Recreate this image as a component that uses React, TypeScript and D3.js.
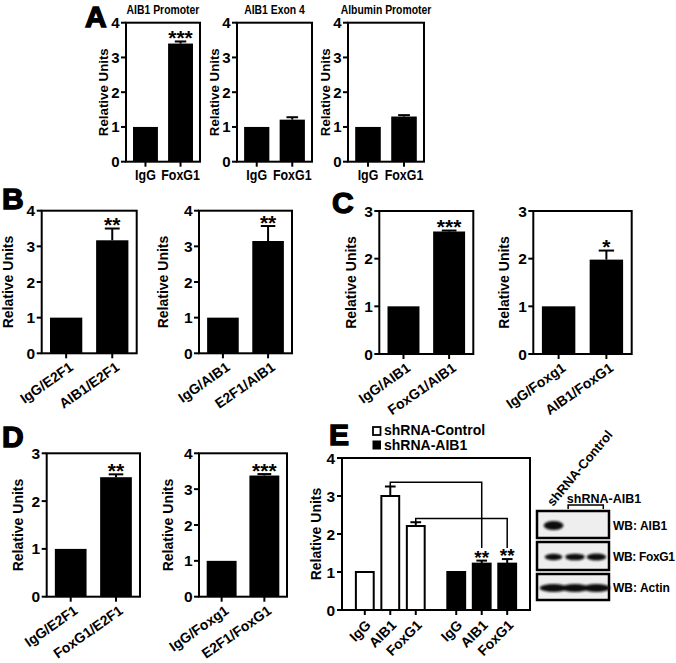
import React from "react";
import * as d3 from "d3";

const FONT = "'Liberation Sans', Arial, Helvetica, sans-serif";

// ---------- data ----------
const aCategories = ["IgG", "FoxG1"];
const aTitles = ["AIB1 Promoter", "AIB1 Exon 4", "Albumin Promoter"];
const a1Values = [1, 3.4];
const a1Errors = [0, 0.06];
const a2Values = [1, 1.21];
const a2Errors = [0, 0.07];
const a3Values = [1, 1.3];
const a3Errors = [0, 0.04];
const aStars = ["", "***"];

const b1Categories = ["IgG/E2F1", "AIB1/E2F1"];
const b1Values = [1, 3.17];
const b1Errors = [0, 0.33];
const b2Categories = ["IgG/AIB1", "E2F1/AIB1"];
const b2Values = [1, 3.15];
const b2Errors = [0, 0.42];

const c1Categories = ["IgG/AIB1", "FoxG1/AIB1"];
const c1Values = [1, 2.57];
const c1Errors = [0, 0.02];
const c2Categories = ["IgG/Foxg1", "AIB1/FoxG1"];
const c2Values = [1, 1.98];
const c2Errors = [0, 0.19];

const d1Categories = ["IgG/E2F1", "FoxG1/E2F1"];
const d1Values = [1, 2.5];
const d1Errors = [0, 0.06];
const d2Categories = ["IgG/Foxg1", "E2F1/FoxG1"];
const d2Values = [1, 3.38];
const d2Errors = [0, 0.04];

const eGroups = ["shRNA-Control", "shRNA-AIB1"];
const eCategories = ["IgG", "AIB1", "FoxG1"];
const eControlValues = [1, 3.0, 2.21];
const eControlErrors = [0, 0.25, 0.1];
const eAIB1Values = [1, 1.22, 1.22];
const eAIB1Errors = [0, 0.08, 0.12];
const eStars = ["", "**", "**"];
const eBracketLevels = [3.36, 2.41];
const eBracketEnd = 1.63;

const blotLanes = ["shRNA-Control", "shRNA-AIB1 #1", "shRNA-AIB1 #2"];
const blotLabels = ["WB: AIB1", "WB: FoxG1", "WB: Actin"];
const blotAIB1 = [1, 0, 0];
const blotFoxG1 = [0.8, 0.9, 1];
const blotActin = [1, 1, 1];

type ChartProps = {
  x0: number; x1: number; yTop: number; yBot: number; max: number;
  cats: string[]; vals: number[]; errs: number[]; stars: string[];
  labelDx: number; narrow?: boolean; title?: string; rotate?: number;
  pi?: number; po?: number;
};

function BarChart(p: ChartProps) {
  const x = d3.scaleBand<string>().domain(p.cats).range([p.x0, p.x1])
    .paddingInner(p.pi ?? 0.3).paddingOuter(p.po ?? 0.18);
  const y = d3.scaleLinear().domain([0, p.max]).range([p.yBot, p.yTop]);
  const ticks = y.ticks(p.max);
  const bw = x.bandwidth();
  const sx = p.narrow ? 0.83 : 1;
  return (
    <g fontFamily={FONT} fontWeight="bold">
      {p.title && (
        <text transform={`translate(${(p.x0 + p.x1) / 2},${p.yTop - 9}) scale(0.8,1)`}
          textAnchor="middle" fontSize={13}>{p.title}</text>
      )}
      {p.cats.map((c, i) => {
        const cx = x(c)! + bw / 2;
        const top = y(p.vals[i]);
        const cap = y(p.vals[i] + p.errs[i]);
        return (
          <g key={c}>
            <rect x={x(c)} y={top} width={bw} height={p.yBot - top} fill="#000" />
            {p.errs[i] > 0 && (
              <g stroke="#000" strokeWidth={2}>
                <line x1={cx} x2={cx} y1={top} y2={cap} />
                <line x1={cx - bw * 0.23} x2={cx + bw * 0.23} y1={cap} y2={cap} />
              </g>
            )}
            {p.stars[i] && (
              <text x={cx} y={cap + 3.5} textAnchor="middle" fontSize={21}>{p.stars[i]}</text>
            )}
            <line x1={cx} x2={cx} y1={p.yBot} y2={p.yBot + 5} stroke="#000" strokeWidth={2} />
            {p.rotate ? (
              <text transform={`translate(${cx + 8},${p.yBot + 16}) rotate(${p.rotate})`}
                textAnchor="end" fontSize={14}>{c}</text>
            ) : (
              <text transform={`translate(${cx},${p.yBot + 18}) scale(${sx},1)`}
                textAnchor="middle" fontSize={15}>{c}</text>
            )}
          </g>
        );
      })}
      <rect x={p.x0} y={p.yTop} width={p.x1 - p.x0} height={p.yBot - p.yTop}
        fill="none" stroke="#000" strokeWidth={2} />
      {ticks.map((t) => (
        <g key={t}>
          <line x1={p.x0 - 5} x2={p.x0} y1={y(t)} y2={y(t)} stroke="#000" strokeWidth={2} />
          <text x={p.x0 - 6.5} y={y(t) + 5.5} textAnchor="end" fontSize={p.narrow ? 15 : 15.5}>{t}</text>
        </g>
      ))}
      <text transform={`translate(${p.x0 - p.labelDx},${(p.yTop + p.yBot) / 2}) rotate(-90)`}
        textAnchor="middle" dominantBaseline="central" fontSize={p.narrow ? 13.3 : 14}>Relative Units</text>
    </g>
  );
}

function PanelE() {
  const x0 = 342, x1 = 530, yTop = 458, yBot = 610;
  const outer = d3.scaleBand<string>().domain(eGroups).range([x0, x1]).paddingInner(0.164).paddingOuter(0.11);
  const inner = d3.scaleBand<string>().domain(eCategories).range([0, outer.bandwidth()]).paddingInner(0.3).paddingOuter(0.15);
  const y = d3.scaleLinear().domain([0, 4]).range([yBot, yTop]);
  const bw = inner.bandwidth();
  const series = [
    { g: eGroups[0], vals: eControlValues, errs: eControlErrors, fill: "#fff", stars: ["", "", ""] },
    { g: eGroups[1], vals: eAIB1Values, errs: eAIB1Errors, fill: "#000", stars: eStars },
  ];
  const cxOf = (g: string, c: string) => outer(g)! + inner(c)! + bw / 2;
  return (
    <g fontFamily={FONT} fontWeight="bold">
      {series.map((s) =>
        eCategories.map((c, i) => {
          const cx = cxOf(s.g, c);
          const top = y(s.vals[i]);
          const cap = y(s.vals[i] + s.errs[i]);
          return (
            <g key={s.g + c}>
              <rect x={cx - bw / 2} y={top} width={bw} height={yBot - top} fill={s.fill} stroke="#000" strokeWidth={2} />
              {s.errs[i] > 0 && (
                <g stroke="#000" strokeWidth={2}>
                  <line x1={cx} x2={cx} y1={top} y2={cap} />
                  <line x1={cx - bw * 0.3} x2={cx + bw * 0.3} y1={cap} y2={cap} />
                </g>
              )}
              {s.stars[i] && (
                <text x={cx} y={cap + 3} textAnchor="middle" fontSize={19}>{s.stars[i]}</text>
              )}
              <line x1={cx} x2={cx} y1={yBot} y2={yBot + 5} stroke="#000" strokeWidth={2} />
              <text transform={`translate(${cx + 7},${yBot + 16}) rotate(-45)`} textAnchor="end" fontSize={14}>{c}</text>
            </g>
          );
        })
      )}
      {eBracketLevels.map((lv, k) => {
        const c = eCategories[k + 1];
        const xa = cxOf(eGroups[0], c);
        const xb = cxOf(eGroups[1], c);
        const capA = y(eControlValues[k + 1] + eControlErrors[k + 1]);
        return (
          <path key={k} d={`M${xa},${capA}V${y(lv)}H${xb}V${y(eBracketEnd)}`} fill="none" stroke="#000" strokeWidth={1.5} />
        );
      })}
      <rect x={x0} y={yTop} width={x1 - x0} height={yBot - yTop} fill="none" stroke="#000" strokeWidth={2} />
      {y.ticks(4).map((t) => (
        <g key={t}>
          <line x1={x0 - 5} x2={x0} y1={y(t)} y2={y(t)} stroke="#000" strokeWidth={2} />
          <text x={x0 - 7} y={y(t) + 5.5} textAnchor="end" fontSize={15.5}>{t}</text>
        </g>
      ))}
      <text transform={`translate(${x0 - 26},${(yTop + yBot) / 2}) rotate(-90)`}
        textAnchor="middle" dominantBaseline="central" fontSize={14}>Relative Units</text>
      {/* legend */}
      <rect x={373} y={427} width={7.5} height={8} fill="#fff" stroke="#000" strokeWidth={1.8} />
      <text x={384} y={435} fontSize={14}>{eGroups[0]}</text>
      <rect x={372.5} y={440.5} width={8.5} height={9} fill="#000" />
      <text x={384} y={449.5} fontSize={14}>{eGroups[1]}</text>
    </g>
  );
}

function Blot() {
  const lanes = d3.scaleBand<string>().domain(blotLanes).range([542, 608]).padding(0.08);
  const rows = [
    { label: blotLabels[0], vals: blotAIB1, y0: 511, h: 27, bh: 9, ext: 0 },
    { label: blotLabels[1], vals: blotFoxG1, y0: 542, h: 28, bh: 7, ext: 0 },
    { label: blotLabels[2], vals: blotActin, y0: 574, h: 26, bh: 8, ext: 4 },
  ];
  const bwid = lanes.bandwidth();
  return (
    <g fontFamily={FONT} fontWeight="bold">
      <defs>
        <filter id="blur" x="-20%" y="-50%" width="140%" height="200%">
          <feGaussianBlur stdDeviation="1.3" />
        </filter>
      </defs>
      {rows.map((r, ri) => (
        <g key={r.label}>
          <rect x={537} y={r.y0} width={72} height={r.h} fill="#eeeeee" stroke="#000" strokeWidth={2.5} />
          <g filter="url(#blur)">
            {blotLanes.map((ln, i) => r.vals[i] > 0 && (
              <ellipse key={ln} cx={lanes(ln)! + bwid / 2} cy={r.y0 + r.h / 2 + 1}
                rx={bwid / 2 + r.ext - (ri === 1 && i === 0 ? 1 : 0)}
                ry={(r.bh * (0.6 + 0.4 * r.vals[i])) / 2} fill="#111" />
            ))}
          </g>
          <text x={613} y={r.y0 + r.h / 2 + 5} fontSize={12} textLength={r.label === blotLabels[1] ? 62 : undefined}>{r.label}</text>
        </g>
      ))}
      <text transform={`translate(553,507) rotate(-50)`} fontSize={13}>{blotLanes[0]}</text>
      <text x={604} y={503} textAnchor="middle" fontSize={12.5}>shRNA-AIB1</text>
      <path d={`M${lanes(blotLanes[1])! + 3},509V505H${lanes(blotLanes[2])! + bwid - 3}V509`} fill="none" stroke="#000" strokeWidth={1.5} />
    </g>
  );
}

function Letter({ t, x, y }: { t: string; x: number; y: number }) {
  return (
    <text x={x} y={y} fontFamily={FONT} fontWeight="bold" fontSize={30} stroke="#000" strokeWidth={1.4}>{t}</text>
  );
}

export default function App() {
  return (
    <svg width={676} height={663} style={{ position: "absolute", left: 0, top: 0, background: "#fff" }}>
      <rect width={676} height={663} fill="#fff" />
      <Letter t="A" x={85} y={27} />
      <Letter t="B" x={2} y={209} />
      <Letter t="C" x={332} y={213} />
      <Letter t="D" x={2} y={447} />
      <Letter t="E" x={329} y={445} />

      <BarChart x0={126} x1={200} yTop={22.7} yBot={161.7} max={4} cats={aCategories} vals={a1Values} errs={a1Errors}
        stars={aStars} labelDx={23} narrow title={aTitles[0]} pi={0.29} po={0.2} />
      <BarChart x0={237} x1={312} yTop={22.7} yBot={161.7} max={4} cats={aCategories} vals={a2Values} errs={a2Errors}
        stars={["", ""]} labelDx={23} narrow title={aTitles[1]} pi={0.29} po={0.2} />
      <BarChart x0={348} x1={424} yTop={22.7} yBot={161.7} max={4} cats={aCategories} vals={a3Values} errs={a3Errors}
        stars={["", ""]} labelDx={23} narrow title={aTitles[2]} pi={0.29} po={0.2} />

      <BarChart x0={41.7} x1={136.7} yTop={210.7} yBot={353.3} max={4} cats={b1Categories} vals={b1Values} errs={b1Errors}
        stars={["", "**"]} labelDx={34} rotate={-35} />
      <BarChart x0={199} x1={292} yTop={210.7} yBot={353.3} max={4} cats={b2Categories} vals={b2Values} errs={b2Errors}
        stars={["", "**"]} labelDx={36} rotate={-35} />

      <BarChart x0={379.3} x1={473.3} yTop={211} yBot={354} max={3} cats={c1Categories} vals={c1Values} errs={c1Errors}
        stars={["", "***"]} labelDx={28.5} rotate={-35} />
      <BarChart x0={533.3} x1={631.7} yTop={211} yBot={354} max={3} cats={c2Categories} vals={c2Values} errs={c2Errors}
        stars={["", "*"]} labelDx={29} rotate={-35} />

      <BarChart x0={46.7} x1={140} yTop={453.3} yBot={596.7} max={3} cats={d1Categories} vals={d1Values} errs={d1Errors}
        stars={["", "**"]} labelDx={29} rotate={-35} />
      <BarChart x0={199} x1={287} yTop={453.3} yBot={596.7} max={4} cats={d2Categories} vals={d2Values} errs={d2Errors}
        stars={["", "***"]} labelDx={31.5} rotate={-35} />

      <PanelE />
      <Blot />
    </svg>
  );
}
